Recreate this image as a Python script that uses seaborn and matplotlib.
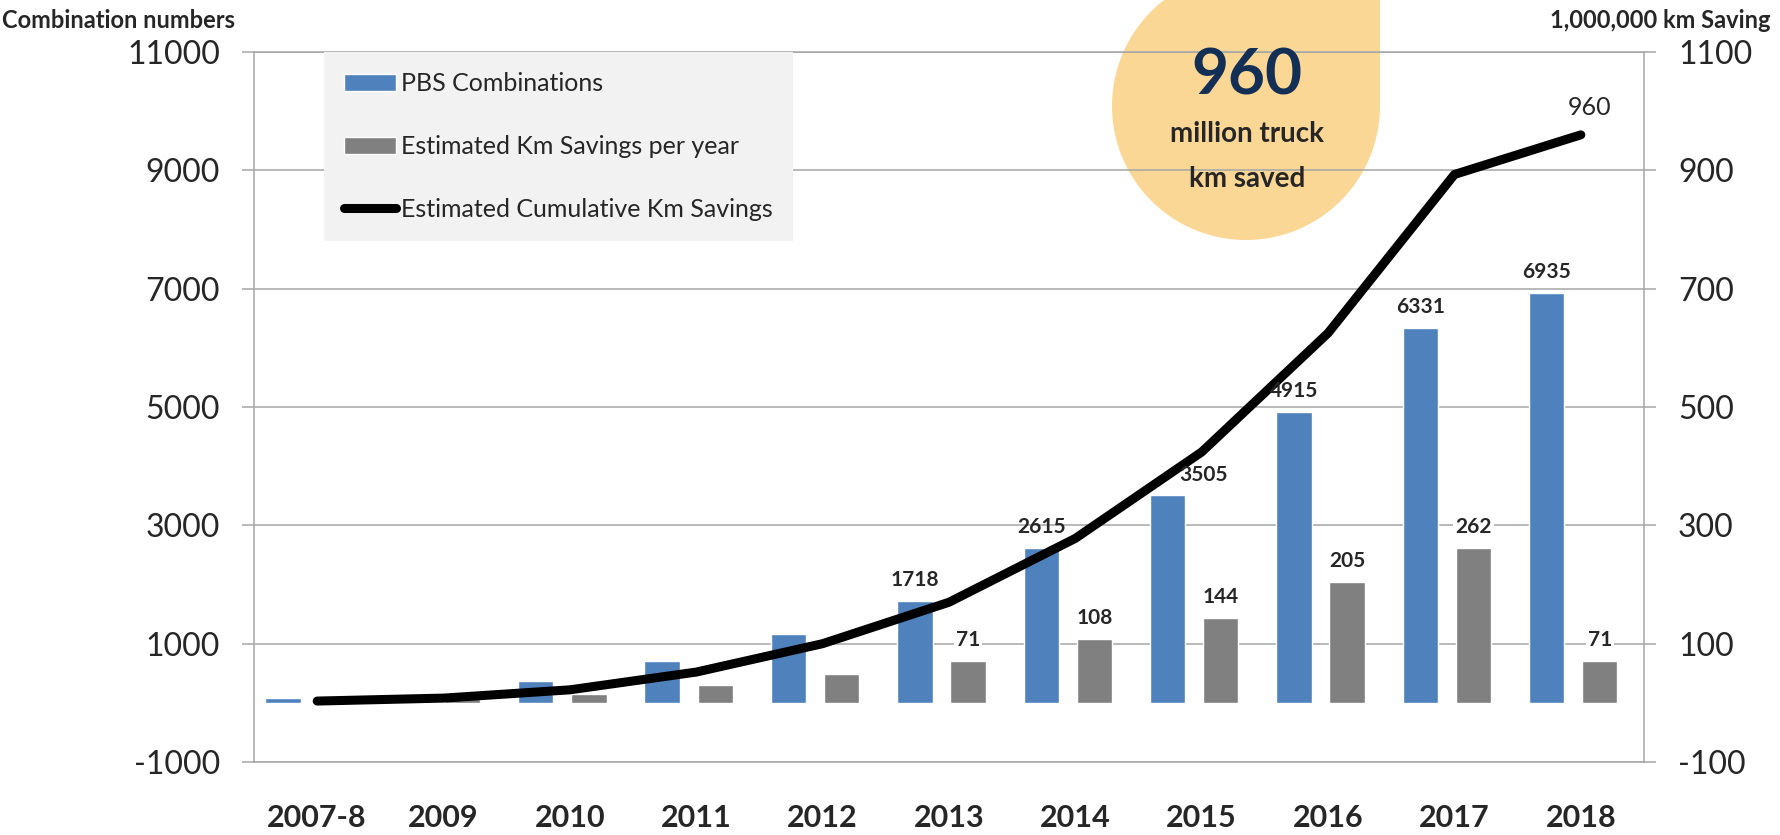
import numpy as np
import pandas as pd
import matplotlib
matplotlib.use("Agg")
import matplotlib.pyplot as plt
import seaborn as sns
from matplotlib.patches import Patch, Polygon
from matplotlib.lines import Line2D
from matplotlib.transforms import IdentityTransform

# Data
years = ["2007-8", "2009", "2010", "2011", "2012", "2013",
         "2014", "2015", "2016", "2017", "2018"]
pbs_combinations = [75, 145, 375, 710, 1170, 1718, 2615, 3505, 4915, 6331, 6935]
km_savings_year = [3, 8, 15, 30, 48, 71, 108, 144, 205, 262, 71]
km_savings_cum = [3, 8, 22, 52, 100, 170, 278, 424, 625, 893, 960]
labelled_from = 5  # bars from 2013 on carry value labels

legend_labels = ["PBS Combinations", "Estimated Km Savings per year",
                 "Estimated Cumulative Km Savings"]

blue = "#4F81BD"
grey = "#808080"
gridc = "#A6A6A6"

sns.set_style("white")
plt.rcParams["font.family"] = ["Lato", "DejaVu Sans"]
plt.rcParams["axes.unicode_minus"] = False

fig = plt.figure(figsize=(17.8, 8.35), dpi=100)
ax = fig.add_axes([254 / 1780, 1 - 762 / 835, 1390 / 1780, 710 / 835])
ax.patch.set_alpha(0)
ax2 = ax.twinx()

idx = np.arange(len(years))
df = pd.DataFrame({"pos": idx, "pbs": pbs_combinations,
                   "per_year": km_savings_year, "cum": km_savings_cum})

# bars: blue on the left axis, grey on the right axis
sns.barplot(x=df["pos"] - 0.27, y=df["pbs"], native_scale=True, width=0.28,
            color=blue, saturation=1, ax=ax, zorder=2)
sns.barplot(x=df["pos"] + 0.15, y=df["per_year"], native_scale=True, width=0.28,
            color=grey, saturation=1, ax=ax2, zorder=2)
sns.lineplot(x=df["pos"], y=df["cum"], ax=ax2, color="black", linewidth=6.5,
             solid_capstyle="round", zorder=3)

ax.set_xlim(-0.5, len(years) - 0.5)
ax.set_ylim(-1000, 11000)
ax2.set_ylim(-100, 1100)
ax.set_yticks(range(-1000, 11001, 2000))
ax2.set_yticks(range(-100, 1101, 200))
ax.set_xticks(idx)
ax.set_xticklabels(years, fontweight="bold", fontsize=22)
for a in (ax, ax2):
    a.set_xlabel("")
    a.set_ylabel("")
ax.tick_params(axis="x", length=0, pad=30)
ax.tick_params(axis="y", labelsize=23, length=8.5, width=1.1, color=gridc,
               pad=16, direction="out")
ax2.tick_params(axis="y", labelsize=23, length=8.5, width=1.1, color=gridc,
                pad=16, direction="out")

ax.yaxis.grid(True, color=gridc, linewidth=1.1)
ax.xaxis.grid(False)
ax.set_axisbelow(True)

for name, sp in ax.spines.items():
    sp.set_visible(name in ("left", "bottom", "top"))
    sp.set_color(gridc)
    sp.set_linewidth(1.1)
for name, sp in ax2.spines.items():
    sp.set_visible(name == "right")
    sp.set_color(gridc)
    sp.set_linewidth(1.1)

# value labels (blue ones drawn on the top axes so the line sits behind them)
box = dict(facecolor="white", edgecolor="none", pad=1.5)
to_right = ax2.transData
blue_to_right = [v / 10 for v in pbs_combinations]
for i in range(labelled_from, len(years)):
    dx = 26 if years[i] == "2015" else 0
    ax2.annotate(f"{pbs_combinations[i]}", (idx[i] - 0.27, blue_to_right[i]),
                 xytext=(dx, 15), textcoords="offset points", ha="center",
                 va="center", fontsize=15, fontweight="bold", zorder=5)
    ax2.annotate(f"{km_savings_year[i]}", (idx[i] + 0.15, km_savings_year[i]),
                 xytext=(0, 15), textcoords="offset points", ha="center",
                 va="center", fontsize=15, fontweight="bold", bbox=box, zorder=4)
ax2.annotate(f"{km_savings_cum[-1]}", (idx[-1], km_savings_cum[-1]),
             xytext=(6, 20), textcoords="offset points", ha="center",
             va="center", fontsize=18)

# legend
handles = [Patch(facecolor=blue), Patch(facecolor=grey),
           Line2D([], [], color="black", linewidth=6.5, solid_capstyle="round")]
leg = ax2.legend(handles, legend_labels, loc="upper left",
                 bbox_to_anchor=(0.05, 1.0), borderaxespad=0, frameon=True,
                 facecolor="#F2F2F2", edgecolor="none", framealpha=1,
                 fancybox=False, fontsize=18, labelspacing=1.6,
                 handlelength=2.1, handletextpad=0.2, borderpad=0.8)
leg.set_zorder(10)

# axis titles
fig.text(2 / 1780, 1 - 21 / 835, "Combination numbers", fontsize=17,
         fontweight="bold", ha="left", va="center")
fig.text(1771 / 1780, 1 - 21 / 835, "1,000,000 km Saving", fontsize=17,
         fontweight="bold", ha="right", va="center")

# callout bubble (circle with a square top-right corner)
cx, cy, r = 1246, 835 - 106, 134
theta = np.linspace(np.pi / 2, 2 * np.pi, 200)
pts = np.column_stack([cx + r * np.cos(theta), cy + r * np.sin(theta)])
pts = np.vstack([pts, [cx + r, cy + r + 20], [cx, cy + r + 20]])
bubble = Polygon(pts, closed=True, facecolor="#FBD795", edgecolor="none",
                 transform=IdentityTransform(), zorder=-1)
fig.add_artist(bubble)

fig.text(1247 / 1780, 1 - 76 / 835, "960", fontsize=46, fontweight="bold",
         color="#142F55", ha="center", va="center")
fig.text(1247 / 1780, 1 - 134 / 835, "million truck", fontsize=20,
         fontweight="bold", ha="center", va="center")
fig.text(1247 / 1780, 1 - 179 / 835, "km saved", fontsize=20,
         fontweight="bold", ha="center", va="center")

fig.savefig("out.png", dpi=100)
